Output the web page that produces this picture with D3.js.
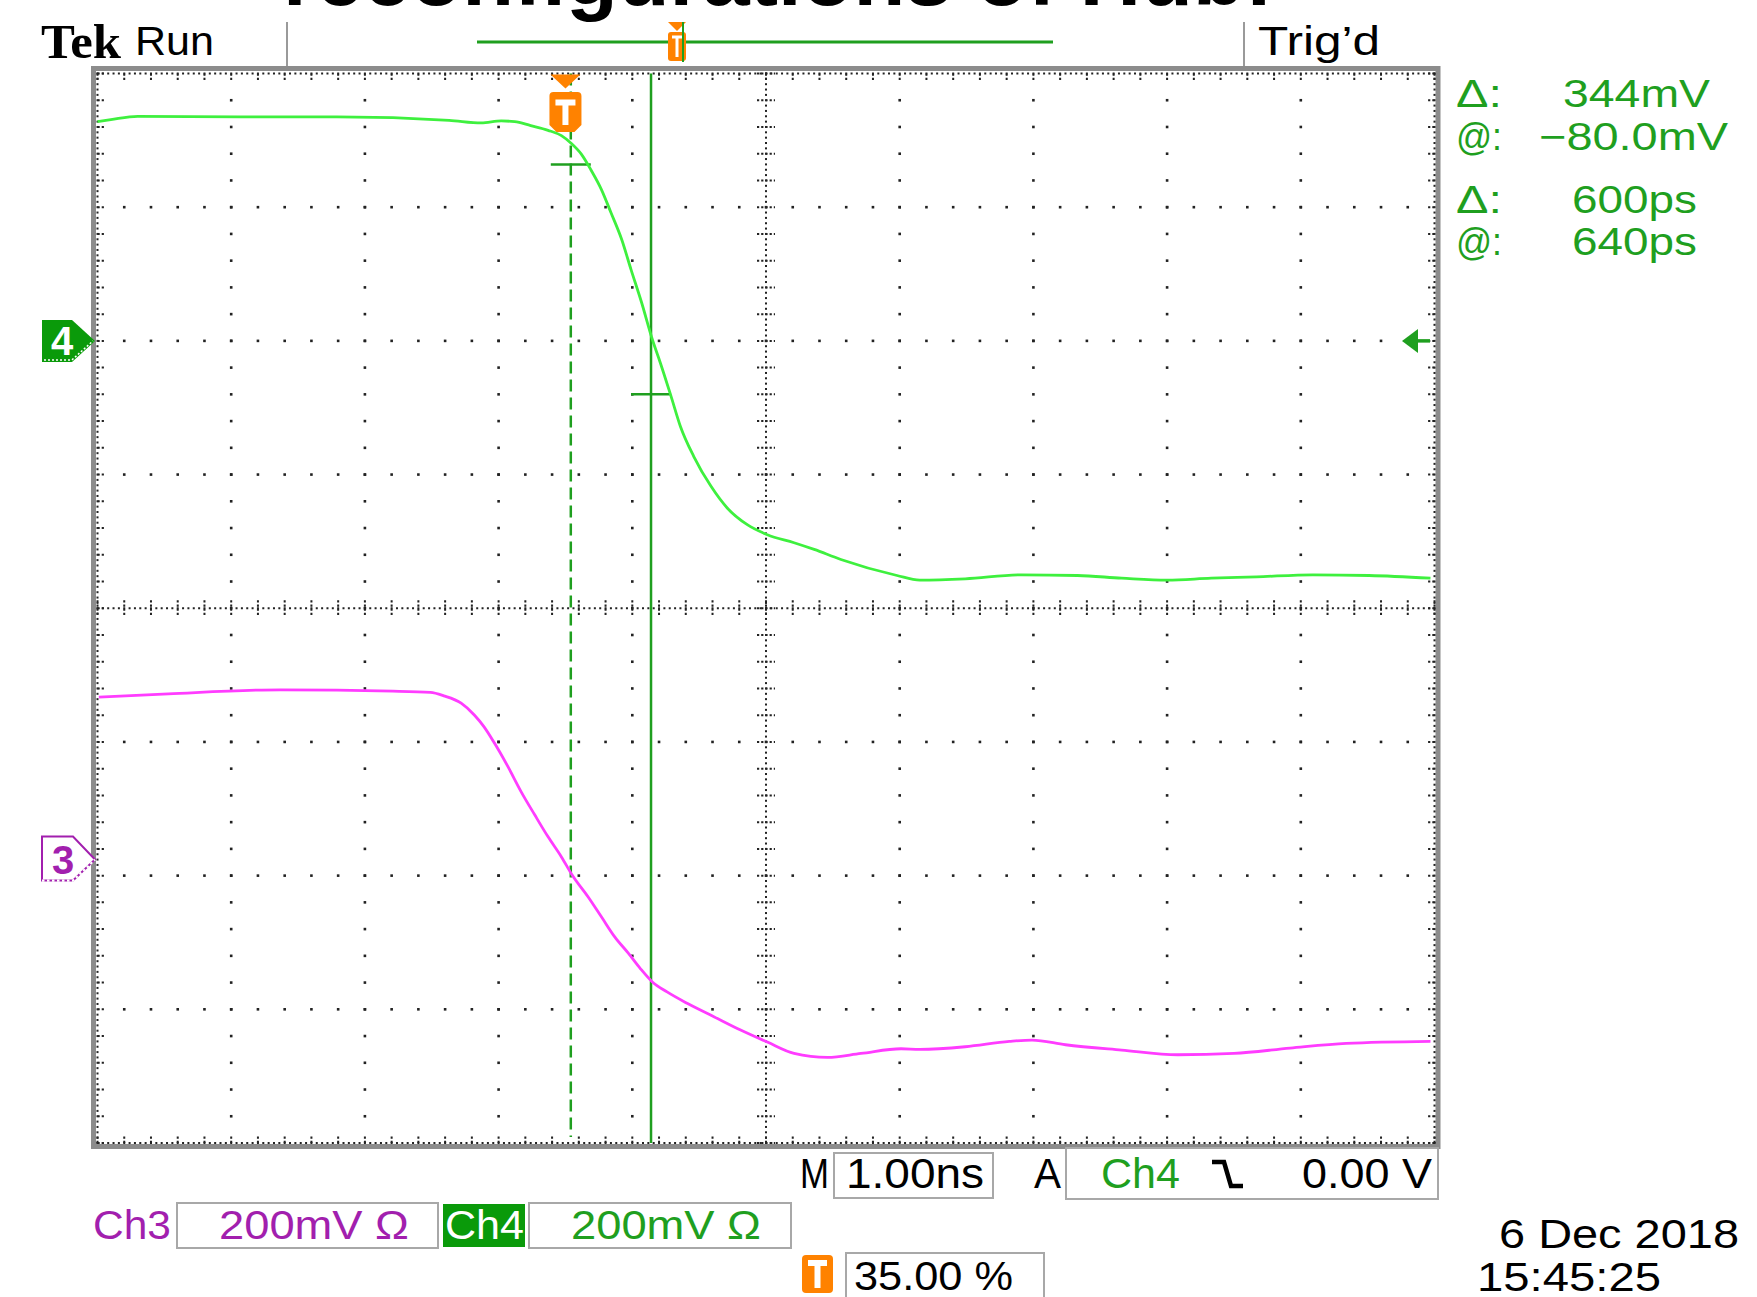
<!DOCTYPE html>
<html>
<head>
<meta charset="utf-8">
<script src="https://cdn.jsdelivr.net/npm/d3@7"></script>
<style>
  body { margin: 0; background: #fff; }
  svg { display: block; }
</style>
</head>
<body>
<script>
// Ch4 (green) trace: time in ns (trigger = 0), level in mV relative to its ground marker
const ch4Time = [-3.50, -3.40, -3.20, -2.43, -1.71, -0.87, -0.63, -0.48, -0.38, -0.26, -0.13, -0.03,
  0.04, 0.12, 0.19, 0.27, 0.34, 0.42, 0.49, 0.57, 0.65, 0.71, 0.79, 0.86, 0.96, 1.09, 1.21, 1.36,
  1.51, 1.71, 1.86, 2.06, 2.48, 2.65, 2.99, 3.41, 3.83, 4.16, 4.50, 4.83, 5.17, 5.59, 6.01, 6.47];
const ch4mV = [328, 331, 336, 335, 335, 330, 326, 329, 328, 322, 315, 307,
  296, 279, 256, 226, 192, 152, 107, 57, 2, -33, -83, -128, -173, -218, -250, -275,
  -290, -302, -312, -327, -351, -358, -356, -350, -351, -355, -358, -355, -353, -350, -351, -355];

// Ch3 (magenta) trace
const ch3Time = [-3.49, -2.97, -2.13, -1.29, -1.01, -0.91, -0.78, -0.68, -0.61, -0.53, -0.43, -0.33,
  -0.23, -0.13, -0.03, 0.05, 0.17, 0.27, 0.37, 0.47, 0.56, 0.65, 0.76, 0.91, 1.11, 1.31, 1.51,
  1.71, 1.96, 2.21, 2.51, 2.65, 2.99, 3.32, 3.49, 3.74, 4.16, 4.58, 5.00, 5.42, 5.84, 6.47];
const ch3mV = [243, 248, 254, 252, 250, 245, 234, 216, 199, 174, 139, 101,
  67, 34, 4, -23, -56, -86, -116, -140, -163, -183, -198, -215, -235, -255, -273,
  -290, -296, -290, -283, -284, -280, -272, -270, -277, -285, -292, -290, -282, -275, -272];

// cursors (time cursors in ns, amplitude cursors in mV on Ch4)
const cursorTimes = [0.04, 0.64];
const cursorLevels = [264, -80];

const readoutLabels = ['Δ:', '@:', 'Δ:', '@:'];
const readoutValues = ['344mV', '−80.0mV', '600ps', '640ps'];

const timeDomain = [-3.5, 6.5];   // 1.00ns/div, trigger at 35%
const voltsPerDiv = 200;          // mV
const ch4Offset = 2;              // divisions above centre
const ch3Offset = -1.88;
const trigLevel = 0;              // mV on Ch4

const W = 1757, H = 1297;
const grid = { left: 97.5, right: 1434.5, top: 73.5, bottom: 1143 };
const GREEN = '#1f9f1f', TRACE_G = '#3ef03e', TRACE_M = '#ff3cff', PURPLE = '#a21fae', ORANGE = '#ff8200';

const svg = d3.select('body').append('svg').attr('width', W).attr('height', H);

const divX = d3.scaleLinear().domain([0, 10]).range([grid.left, grid.right]);
const divY = d3.scaleLinear().domain([-4, 4]).range([grid.bottom, grid.top]);
const xScale = d3.scaleLinear().domain(timeDomain).range([grid.left, grid.right]);
const y4 = d3.scaleLinear().domain([(-4 - ch4Offset) * voltsPerDiv, (4 - ch4Offset) * voltsPerDiv]).range([grid.bottom, grid.top]);
const y3 = d3.scaleLinear().domain([(-4 - ch3Offset) * voltsPerDiv, (4 - ch3Offset) * voltsPerDiv]).range([grid.bottom, grid.top]);

function txt(x, y, s, o = {}) {
  const t = svg.append('text').attr('x', x).attr('y', y).text(s)
    .attr('font-family', o.family || 'Liberation Sans, Arial, sans-serif')
    .attr('font-size', o.size || 40)
    .attr('font-weight', o.weight || 'normal')
    .attr('fill', o.fill || '#000');
  if (o.len) t.attr('textLength', o.len).attr('lengthAdjust', 'spacingAndGlyphs');
  if (o.anchor) t.attr('text-anchor', o.anchor);
  return t;
}

// ---- title (cut off at the top of the picture)
txt(283, 5, 'reconfigurations of Hub:', { size: 84, weight: 'bold', len: 990 });

// ---- header
txt(41, 58, 'Tek', { family: 'Liberation Serif, serif', size: 48, weight: 'bold', len: 80 });
txt(135, 55, 'Run', { size: 40, len: 79 });
txt(1258, 55, 'Trig’d', { size: 40, len: 122 });
[287, 1244].forEach(x => svg.append('line').attr('x1', x).attr('x2', x).attr('y1', 22).attr('y2', 67)
  .attr('stroke', '#9a9a9a').attr('stroke-width', 2));

// record view bar with trigger position
svg.append('line').attr('x1', 477).attr('x2', 1053).attr('y1', 42).attr('y2', 42)
  .attr('stroke', GREEN).attr('stroke-width', 3);
const tb = 677;
svg.append('path').attr('d', `M${tb - 9},22 H${tb + 9} L${tb},31 Z`).attr('fill', ORANGE);
svg.append('rect').attr('x', tb - 9).attr('y', 32).attr('width', 18).attr('height', 29).attr('rx', 3).attr('fill', ORANGE);
svg.append('path').attr('d', `M${tb - 5},37 H${tb + 5} M${tb},37 V57`).attr('stroke', '#fff').attr('stroke-width', 3);
svg.append('line').attr('x1', tb + 6).attr('x2', tb + 6).attr('y1', 22).attr('y2', 62).attr('stroke', GREEN).attr('stroke-width', 2);

// ---- graticule
const g = svg.append('g');
g.append('rect').attr('x', grid.left - 4).attr('y', grid.top - 5).attr('width', grid.right - grid.left + 7.5)
  .attr('height', grid.bottom - grid.top + 8.5).attr('fill', 'none').attr('stroke', '#8c8c8c').attr('stroke-width', 5);

const dot = (x, y, s = 2.6) => g.append('rect').attr('x', x - s / 2).attr('y', y - s / 2).attr('width', s).attr('height', s).attr('fill', '#222');
const fineX = d3.range(0, 10.0001, 0.04), fineY = d3.range(-4, 4.0001, 0.04);
const minorX = d3.range(0, 10.0001, 0.2), minorY = d3.range(-4, 4.0001, 0.2);

// dense dotted border and centre cross
fineX.forEach(d => { dot(divX(d), grid.top, 2); dot(divX(d), grid.bottom, 2); dot(divX(d), divY(0), 2); });
fineY.forEach(d => { dot(grid.left, divY(d), 2); dot(grid.right, divY(d), 2); dot(divX(5), divY(d), 2); });

// minor ticks on border (inward) and on centre cross (both sides)
g.selectAll('.tx').data(minorX).enter().append('path')
  .attr('d', d => `M${divX(d)},${grid.top} v7 M${divX(d)},${grid.bottom} v-7 M${divX(d)},${divY(0) - 8} v16`)
  .attr('stroke', '#222').attr('stroke-width', 2).attr('stroke-dasharray', '2.2,2');
g.selectAll('.ty').data(minorY).enter().append('path')
  .attr('d', d => `M${grid.left},${divY(d)} h8 M${grid.right},${divY(d)} h-8 M${divX(5) - 9},${divY(d)} h18`)
  .attr('stroke', '#222').attr('stroke-width', 2).attr('stroke-dasharray', '2.2,2');

// interior major lines as dots every minor step
d3.range(1, 10).filter(i => i !== 5).forEach(i => minorY.slice(1, -1).forEach(d => dot(divX(i), divY(d))));
d3.range(-3, 4).filter(i => i !== 0).forEach(i => minorX.slice(1, -1).forEach(d => dot(divX(d), divY(i))));

// ---- cursors
svg.append('line').attr('x1', xScale(cursorTimes[0])).attr('x2', xScale(cursorTimes[0]))
  .attr('y1', grid.top).attr('y2', grid.bottom - 6).attr('stroke', GREEN).attr('stroke-width', 2.5)
  .attr('stroke-dasharray', '12,6');
svg.append('line').attr('x1', xScale(cursorTimes[1])).attr('x2', xScale(cursorTimes[1]))
  .attr('y1', grid.top).attr('y2', grid.bottom).attr('stroke', GREEN).attr('stroke-width', 2.5);
cursorLevels.forEach((v, i) => svg.append('line')
  .attr('x1', xScale(cursorTimes[i]) - 20).attr('x2', xScale(cursorTimes[i]) + 20)
  .attr('y1', y4(v)).attr('y2', y4(v)).attr('stroke', GREEN).attr('stroke-width', 2.5));

// ---- traces
const line4 = d3.line().x(i => xScale(ch4Time[i])).y(i => y4(ch4mV[i])).curve(d3.curveMonotoneX);
const line3 = d3.line().x(i => xScale(ch3Time[i])).y(i => y3(ch3mV[i])).curve(d3.curveMonotoneX);
svg.append('path').attr('d', line3(d3.range(ch3Time.length))).attr('fill', 'none').attr('stroke', TRACE_M).attr('stroke-width', 2.8);
svg.append('path').attr('d', line4(d3.range(ch4Time.length))).attr('fill', 'none').attr('stroke', TRACE_G).attr('stroke-width', 2.8);

// ---- trigger position marker
const tx = xScale(0);
svg.append('path').attr('d', `M${tx - 15},${grid.top + 1} H${tx + 15} L${tx},${grid.top + 15} Z`).attr('fill', ORANGE);
svg.append('path').attr('d', `M${tx - 16},96 Q${tx - 16},92 ${tx - 12},92 H${tx + 12} Q${tx + 16},92 ${tx + 16},96 V125 L${tx + 9},132 H${tx - 9} L${tx - 16},125 Z`)
  .attr('fill', ORANGE);
svg.append('path').attr('d', `M${tx - 10},102.5 H${tx + 10} M${tx},102.5 V125`).attr('stroke', '#fff').attr('stroke-width', 6);

// trigger level arrow on the right
const tl = y4(trigLevel);
svg.append('path').attr('d', `M1402,${tl} L1418,${tl - 12} V${tl + 12} Z`).attr('fill', GREEN);
svg.append('line').attr('x1', 1416).attr('x2', 1430).attr('y1', tl).attr('y2', tl).attr('stroke', GREEN).attr('stroke-width', 3.5);

// ---- channel ground markers
const c4 = y4(0), c3 = y3(0);
svg.append('path').attr('d', `M42,${c4 - 21} H72 L95,${c4} L72,${c4 + 21} H42 Z`).attr('fill', '#0a9a0a');
svg.append('path').attr('d', `M44,${c4 + 19} H72 L93,${c4}`).attr('fill', 'none').attr('stroke', '#fff')
  .attr('stroke-width', 1.5).attr('stroke-dasharray', '2,2');
txt(62, c4 + 14, '4', { size: 40, weight: 'bold', fill: '#fff', anchor: 'middle' });
svg.append('path').attr('d', `M42,${c3 - 23} H73 L95,${c3} L73,${c3 + 21} H42 Z`).attr('fill', '#fff')
  .attr('stroke', PURPLE).attr('stroke-width', 2);
svg.append('path').attr('d', `M42,${c3 + 21} H73 L95,${c3}`).attr('fill', 'none').attr('stroke', '#fff')
  .attr('stroke-width', 2.2).attr('stroke-dasharray', '2.5,2.5');
txt(63, c3 + 14, '3', { size: 40, weight: 'bold', fill: PURPLE, anchor: 'middle' });

// ---- cursor readouts
const roY = [107, 150, 213, 255];
const roX = [[1563, 147], [1539, 189], [1572, 125], [1572, 125]];
readoutLabels.forEach((s, i) => {
  txt(1456, roY[i], s, { size: 38, fill: GREEN, len: 46 });
  txt(roX[i][0], roY[i], readoutValues[i], { size: 38, fill: GREEN, len: roX[i][1] });
});

// ---- bottom status boxes
const box = (x, y, w, h, fill) => svg.append('rect').attr('x', x).attr('y', y).attr('width', w).attr('height', h)
  .attr('fill', fill || 'none').attr('stroke', fill ? 'none' : '#a8a8a8').attr('stroke-width', 2);

txt(800, 1188, 'M', { size: 42, len: 29 });
box(834, 1153, 159, 45);
txt(846, 1188, '1.00ns', { size: 42, len: 138 });
txt(1034, 1188, 'A', { size: 42, len: 27 });
box(1066, 1148, 372, 51);
txt(1101, 1188, 'Ch4', { size: 42, fill: GREEN, len: 79 });
svg.append('path').attr('d', 'M1212,1162 H1224 L1231,1186 H1243').attr('fill', 'none').attr('stroke', '#000').attr('stroke-width', 4.5);
txt(1302, 1188, '0.00 V', { size: 42, len: 130 });

txt(93, 1239, 'Ch3', { size: 40, fill: PURPLE, len: 78 });
box(177, 1203, 261, 45);
txt(219, 1239, '200mV Ω', { size: 40, fill: PURPLE, len: 190 });
box(443, 1204, 82, 43, '#0a9a0a');
txt(445, 1239, 'Ch4', { size: 40, fill: '#fff', len: 79 });
box(529, 1203, 262, 45);
txt(571, 1239, '200mV Ω', { size: 40, fill: GREEN, len: 190 });

svg.append('rect').attr('x', 802).attr('y', 1255).attr('width', 31).attr('height', 38).attr('rx', 4).attr('fill', ORANGE);
svg.append('path').attr('d', 'M808,1263 H827 M817.5,1263 V1288').attr('stroke', '#fff').attr('stroke-width', 6);
box(846, 1253, 198, 50);
txt(854, 1290, '35.00 %', { size: 40, len: 159 });

txt(1499, 1248, '6 Dec  2018', { size: 40, len: 240 });
txt(1477, 1291, '15:45:25', { size: 40, len: 184 });
</script>
</body>
</html>
